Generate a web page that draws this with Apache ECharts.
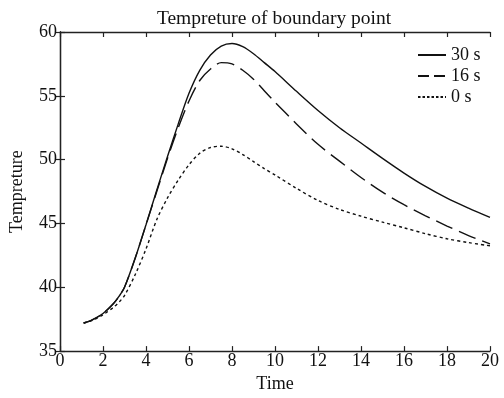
<!DOCTYPE html>
<html>
<head>
<meta charset="utf-8">
<script src="https://cdn.jsdelivr.net/npm/echarts@6/dist/echarts.min.js"></script>
<style>html,body{margin:0;padding:0;background:#fff}#c{width:504px;height:398px}</style>
</head>
<body>
<div id="c"></div>
<script>
var time = [1.1, 1.5, 2, 2.5, 2.75, 3, 3.5, 4, 4.5, 5, 5.5, 6, 6.5, 7, 7.5, 8, 8.5, 9, 9.5, 10, 11, 12, 13, 14, 15, 16, 17, 18, 19, 20];
var s30 = [37.2, 37.45, 37.95, 38.75, 39.3, 40.0, 42.3, 44.9, 47.6, 50.25, 52.8, 55.2, 57.0, 58.2, 58.9, 59.1, 58.85, 58.3, 57.6, 56.9, 55.35, 53.85, 52.5, 51.3, 50.1, 48.95, 47.9, 46.98, 46.2, 45.47];
var s16 = [37.2, 37.45, 37.95, 38.75, 39.3, 40.0, 42.3, 44.9, 47.5, 50.1, 52.5, 54.6, 56.2, 57.1, 57.6, 57.5, 57.0, 56.3, 55.4, 54.5, 52.8, 51.2, 49.88, 48.6, 47.45, 46.47, 45.6, 44.8, 44.05, 43.4];
var s0 = [37.2, 37.4, 37.85, 38.45, 38.85, 39.35, 41.0, 43.0, 45.3, 47.0, 48.4, 49.6, 50.5, 50.95, 51.05, 50.85, 50.4, 49.85, 49.3, 48.8, 47.75, 46.8, 46.1, 45.57, 45.1, 44.66, 44.2, 43.8, 43.5, 43.25];
var seriesNames = ['30 s', '16 s', '0 s'];
var xTicks = {min: 0, max: 20, interval: 2};
var yTicks = {min: 35, max: 60, interval: 5};

function pairs(ys) { return time.map(function (t, i) { return [t, ys[i]]; }); }

var font = 'Liberation Serif, Times New Roman, serif';
var axisCommon = {
  axisLine: {show: true, lineStyle: {color: '#222', width: 1.3}},
  axisTick: {show: true, inside: true, length: 5, lineStyle: {color: '#222', width: 1.2}},
  splitLine: {show: false}
};
var chart = echarts.init(document.getElementById('c'), null, {renderer: 'canvas'});
chart.setOption({
  backgroundColor: '#fff',
  animation: false,
  title: {
    text: 'Tempreture of boundary point',
    left: 269, top: 4, textAlign: 'center',
    textStyle: {fontFamily: font, fontSize: 19.5, fontWeight: 'normal', color: '#111'}
  },
  legend: {
    orient: 'vertical', left: 412, top: 41,
    itemWidth: 28, itemHeight: 10, itemGap: 3,
    data: [
      {name: seriesNames[0]},
      {name: seriesNames[1], lineStyle: {type: [11, 5]}},
      {name: seriesNames[2], lineStyle: {type: [2.5, 2]}}
    ],
    itemStyle: {opacity: 0, color: 'transparent', borderWidth: 0},
    textStyle: {fontFamily: font, fontSize: 18, color: '#111', lineHeight: 18}
  },
  grid: {left: 57, right: 14, top: 32, bottom: 39},
  xAxis: [
    Object.assign({
      type: 'value', min: xTicks.min, max: xTicks.max, interval: xTicks.interval,
      position: 'bottom',
      name: 'Time', nameLocation: 'middle', nameGap: 21,
      nameTextStyle: {fontFamily: font, fontSize: 18, color: '#111'},
      axisLabel: {fontFamily: font, fontSize: 18, color: '#111', margin: 1}
    }, axisCommon),
    Object.assign({
      type: 'value', min: xTicks.min, max: xTicks.max, interval: xTicks.interval,
      position: 'top', axisLabel: {show: false}
    }, axisCommon)
  ],
  yAxis: [
    Object.assign({
      type: 'value', min: yTicks.min, max: yTicks.max, interval: yTicks.interval,
      position: 'left',
      name: 'Tempreture', nameLocation: 'middle', nameGap: 34,
      nameTextStyle: {fontFamily: font, fontSize: 18, color: '#111'},
      axisLabel: {fontFamily: font, fontSize: 18, color: '#111', margin: 3}
    }, axisCommon),
    Object.assign({
      type: 'value', min: yTicks.min, max: yTicks.max, interval: yTicks.interval,
      position: 'right', axisLabel: {show: false}
    }, axisCommon)
  ],
  series: [
    {name: seriesNames[0], type: 'line', data: pairs(s30), symbol: 'none', smooth: 0.3,
     lineStyle: {color: '#111', width: 1.4, type: 'solid'}, itemStyle: {color: '#111'}},
    {name: seriesNames[1], type: 'line', data: pairs(s16), symbol: 'none', smooth: 0.3,
     lineStyle: {color: '#111', width: 1.4, type: [18, 7]}, itemStyle: {color: '#111'}},
    {name: seriesNames[2], type: 'line', data: pairs(s0), symbol: 'none', smooth: 0.3,
     lineStyle: {color: '#111', width: 1.4, type: [3, 3]}, itemStyle: {color: '#111'}}
  ]
});
</script>
</body>
</html>
